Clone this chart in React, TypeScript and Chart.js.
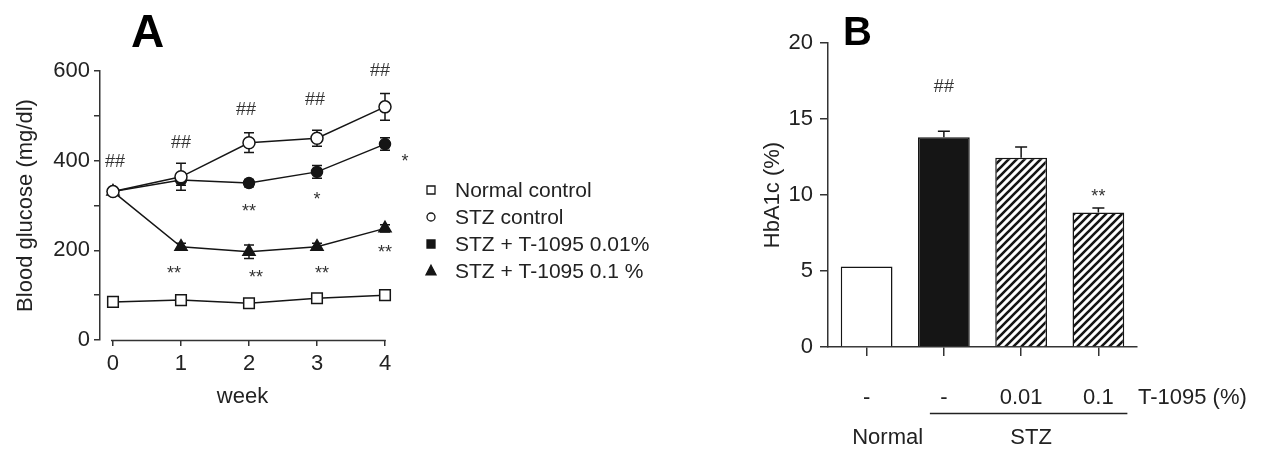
import React, { useEffect, useRef } from 'react';
import { Chart, registerables } from 'chart.js';

Chart.register(...registerables);

const FONT = "'Liberation Sans', Arial, Helvetica, sans-serif";
const INK = '#151515';
const TEXT = '#222222';

// ---------- Panel A data ----------
const weeks = [0, 1, 2, 3, 4];
const seriesLabels = ['Normal control', 'STZ control', 'STZ + T-1095 0.01%', 'STZ + T-1095 0.1 %'];
const normalControl = [85, 89, 82, 93, 100];
const stzControl = [331, 364, 440, 450, 520];
const stzLowDose = [331, 357, 350, 375, 437];
const stzHighDose = [331, 208, 197, 208, 249];
const normalControlErr = [3, 3, 3, 4, 4];
const stzControlErr = [4, 30, 22, 18, 30];
const stzLowDoseErr = [4, 12, 8, 14, 14];
const stzHighDoseErr = [4, 8, 15, 8, 8];
const glucoseTickValues = [0, 100, 200, 300, 400, 500, 600];
const glucoseLabelStep = 200;
// [text, series index, week index]
const glucoseMarks: Array<[string, number, number]> = [
  ['##', 1, 0], ['##', 1, 1], ['##', 1, 2], ['##', 1, 3], ['##', 1, 4],
  ['**', 3, 1], ['**', 3, 2], ['**', 3, 3], ['**', 3, 4],
  ['**', 2, 2], ['*', 2, 3], ['*', 2, 4],
];
// pixel offsets of the marks from their points (style only)
const glucoseMarkOffsets: Array<[number, number]> = [
  [2, -30], [0, -34], [-3, -33], [-2, -38], [-5, -36],
  [-7, 22], [7, 21], [5, 22], [0, 20],
  [0, 24], [0, 23], [20, 13],
];

// ---------- Panel B data ----------
const hbDose = ['-', '-', '0.01', '0.1'];
const hbGroups = ['Normal', 'STZ'];
const hbDoseTitle = 'T-1095 (%)';
const hba1c = [5.3, 13.8, 12.45, 8.85];
const hba1cErr = [0, 0.4, 0.7, 0.3];
const hbMarks = ['', '##', '', '**'];
const hbTickValues = [0, 5, 10, 15, 20];

function drawMarker(ctx: CanvasRenderingContext2D, style: string, filled: boolean, x: number, y: number, r: number) {
  ctx.beginPath();
  if (style === 'rect') {
    ctx.rect(x - r, y - r, 2 * r, 2 * r);
  } else if (style === 'circle') {
    ctx.arc(x, y, r, 0, Math.PI * 2);
  } else {
    ctx.moveTo(x, y - r * 1.15);
    ctx.lineTo(x + r, y + r * 0.75);
    ctx.lineTo(x - r, y + r * 0.75);
    ctx.closePath();
  }
  ctx.fillStyle = filled ? INK : '#ffffff';
  ctx.fill();
  ctx.lineWidth = 1.3;
  ctx.strokeStyle = INK;
  ctx.stroke();
}

function drawMarkText(ctx: CanvasRenderingContext2D, text: string, x: number, y: number) {
  ctx.save();
  ctx.font = `18px ${FONT}`;
  ctx.fillStyle = '#333';
  ctx.textAlign = 'center';
  ctx.textBaseline = 'middle';
  const shift = text.includes('*') ? 5 : 0;
  ctx.fillText(text, x, y + shift);
  ctx.restore();
}

const legendMarkers: Array<[string, boolean]> = [
  ['rect', false], ['circle', false], ['rect', true], ['triangle', true],
];

export default function App() {
  const refA = useRef<HTMLCanvasElement>(null);
  const refB = useRef<HTMLCanvasElement>(null);

  useEffect(() => {
    Chart.defaults.font.family = FONT;
    const values = [normalControl, stzControl, stzLowDose, stzHighDose];
    const errors = [normalControlErr, stzControlErr, stzLowDoseErr, stzHighDoseErr];
    const styles = [
      { pointStyle: 'rect', radius: 7.5, fill: '#ffffff', order: 1 },
      { pointStyle: 'circle', radius: 6, fill: '#ffffff', order: -1 },
      { pointStyle: 'circle', radius: 5.5, fill: INK, order: 0 },
      { pointStyle: 'triangle', radius: 7, fill: INK, order: 0 },
    ];

    const pluginA = {
      id: 'panelA',
      beforeDatasetsDraw(chart: any) {
        const { ctx, scales } = chart;
        ctx.save();
        ctx.strokeStyle = INK;
        ctx.lineWidth = 1.5;
        values.forEach((arr, si) => {
          arr.forEach((v, i) => {
            const e = errors[si][i];
            const x = scales.x.getPixelForValue(weeks[i]);
            const y1 = scales.y.getPixelForValue(v + e);
            const y2 = scales.y.getPixelForValue(v - e);
            ctx.beginPath();
            ctx.moveTo(x, y1); ctx.lineTo(x, y2);
            ctx.moveTo(x - 5, y1); ctx.lineTo(x + 5, y1);
            ctx.moveTo(x - 5, y2); ctx.lineTo(x + 5, y2);
            ctx.stroke();
          });
        });
        ctx.restore();
      },
      afterDraw(chart: any) {
        const { ctx, scales, chartArea } = chart;
        ctx.save();
        // x axis line (offset from the y axis)
        ctx.strokeStyle = '#333';
        ctx.lineWidth = 1.5;
        ctx.beginPath();
        const yb = chartArea.bottom + 0.5;
        ctx.moveTo(scales.x.getPixelForValue(weeks[0]) - 2, yb);
        ctx.lineTo(scales.x.getPixelForValue(weeks[weeks.length - 1]) + 0.75, yb);
        ctx.stroke();
        // significance marks
        glucoseMarks.forEach(([text, si, wi], k) => {
          const [dx, dy] = glucoseMarkOffsets[k];
          const x = scales.x.getPixelForValue(weeks[wi]);
          const y = scales.y.getPixelForValue(values[si][wi]);
          drawMarkText(ctx, text, x + dx, y + dy);
        });
        // legend
        const lx = chartArea.right + 46;
        seriesLabels.forEach((label, i) => {
          const y = 190 + i * 27;
          const [st, filled] = legendMarkers[i];
          drawMarker(ctx, st, filled, lx, y, st === 'triangle' ? 5 : 4);
          ctx.font = `21px ${FONT}`;
          ctx.fillStyle = TEXT;
          ctx.textAlign = 'left';
          ctx.textBaseline = 'middle';
          ctx.fillText(label, lx + 24, y + 1);
        });
        // panel letter
        ctx.font = `bold 46px ${FONT}`;
        ctx.fillStyle = '#000';
        ctx.textAlign = 'left';
        ctx.textBaseline = 'alphabetic';
        ctx.fillText('A', 131, 47);
        ctx.restore();
      },
    };

    const chartA = new Chart(refA.current as HTMLCanvasElement, {
      type: 'line',
      data: {
        datasets: seriesLabels.map((label, si) => ({
          label,
          data: weeks.map((w, i) => ({ x: w, y: values[si][i] })),
          borderColor: INK,
          borderWidth: 1.5,
          pointStyle: styles[si].pointStyle as any,
          pointRadius: styles[si].radius,
          pointBackgroundColor: styles[si].fill,
          pointBorderColor: INK,
          pointBorderWidth: 1.5,
          tension: 0,
          clip: false as any,
          order: styles[si].order,
        })),
      },
      options: {
        responsive: false,
        animation: false,
        layout: { padding: { top: 71, right: 375, left: 0, bottom: 0 } },
        plugins: { legend: { display: false }, tooltip: { enabled: false } },
        scales: {
          x: {
            type: 'linear',
            min: -0.191,
            max: 4,
            afterBuildTicks: (s: any) => { s.ticks = weeks.map((v) => ({ value: v })); },
            afterFit: (s: any) => { s.height = 109; },
            grid: { drawOnChartArea: false, drawTicks: true, tickLength: 6, color: '#333', lineWidth: 1.5 },
            border: { display: false },
            ticks: { font: { size: 22 }, color: TEXT, padding: 5, maxRotation: 0, autoSkip: false },
            title: { display: true, text: 'week', font: { size: 22 }, color: TEXT, padding: { top: 0, bottom: 39 } },
          },
          y: {
            min: 0,
            max: 600,
            afterBuildTicks: (s: any) => { s.ticks = glucoseTickValues.map((v) => ({ value: v })); },
            afterFit: (s: any) => { s.width = 100; },
            grid: { drawOnChartArea: false, drawTicks: true, tickLength: 6, color: '#333', lineWidth: 1.5 },
            border: { display: true, color: '#333', width: 1.5 },
            ticks: {
              font: { size: 22 }, color: TEXT, padding: 4,
              callback: (v: any) => (Number(v) % glucoseLabelStep === 0 ? String(v) : ''),
            },
            title: { display: true, text: 'Blood glucose (mg/dl)', font: { size: 22 }, color: TEXT, padding: { top: 13, bottom: 0 } },
          },
        },
      },
      plugins: [pluginA],
    });

    // hatch pattern for panel B (stripes rising from lower-left to upper-right)
    const tile = document.createElement('canvas');
    tile.width = 8; tile.height = 8;
    const tctx = tile.getContext('2d') as CanvasRenderingContext2D;
    tctx.fillStyle = '#ffffff';
    tctx.fillRect(0, 0, 8, 8);
    tctx.strokeStyle = INK;
    tctx.lineWidth = 2.6;
    tctx.beginPath();
    tctx.moveTo(-2, 10); tctx.lineTo(10, -2);
    tctx.moveTo(-2, 2); tctx.lineTo(2, -2);
    tctx.moveTo(6, 10); tctx.lineTo(10, 6);
    tctx.stroke();
    const ctxB = (refB.current as HTMLCanvasElement).getContext('2d') as CanvasRenderingContext2D;
    const hatch = ctxB.createPattern(tile, 'repeat');
    const fills = ['#ffffff', INK, hatch, hatch];

    const pluginB = {
      id: 'panelB',
      afterDatasetsDraw(chart: any) {
        const { ctx, scales, chartArea } = chart;
        ctx.save();
        ctx.strokeStyle = INK;
        ctx.lineWidth = 1.5;
        hba1c.forEach((v, i) => {
          const x = scales.x.getPixelForValue(i);
          const y0 = scales.y.getPixelForValue(v);
          if (hba1cErr[i] > 0) {
            const y1 = scales.y.getPixelForValue(v + hba1cErr[i]);
            ctx.beginPath();
            ctx.moveTo(x, y0); ctx.lineTo(x, y1);
            ctx.moveTo(x - 6, y1); ctx.lineTo(x + 6, y1);
            ctx.stroke();
          }
          if (hbMarks[i]) {
            const dy = hbMarks[i].includes('#') ? -50 : -20;
            drawMarkText(ctx, hbMarks[i], x, y0 + dy);
          }
        });
        // group annotations below the axis
        const c0 = scales.x.getPixelForValue(0);
        const c1 = scales.x.getPixelForValue(1);
        const c3 = scales.x.getPixelForValue(3);
        ctx.font = `22px ${FONT}`;
        ctx.fillStyle = TEXT;
        ctx.textBaseline = 'middle';
        ctx.textAlign = 'left';
        ctx.fillText(hbDoseTitle, chartArea.right + 1, 398);
        ctx.strokeStyle = '#222';
        ctx.lineWidth = 1.5;
        ctx.beginPath();
        ctx.moveTo(c1 - 14, 413.5);
        ctx.lineTo(c3 + 29, 413.5);
        ctx.stroke();
        ctx.textAlign = 'center';
        ctx.fillText(hbGroups[0], c0 + 21, 438);
        ctx.fillText(hbGroups[1], (c1 + c3) / 2 + 10, 438);
        // panel letter
        ctx.font = `bold 40px ${FONT}`;
        ctx.fillStyle = '#000';
        ctx.textAlign = 'left';
        ctx.textBaseline = 'alphabetic';
        ctx.fillText('B', 83, 45);
        ctx.restore();
      },
    };

    const chartB = new Chart(refB.current as HTMLCanvasElement, {
      type: 'bar',
      data: {
        labels: hbDose,
        datasets: [{
          data: hba1c,
          backgroundColor: fills as any,
          borderColor: INK,
          borderWidth: 1.5,
          borderSkipped: 'bottom',
          barPercentage: 0.67,
          categoryPercentage: 1,
        }],
      },
      options: {
        responsive: false,
        animation: false,
        layout: { padding: { top: 43, right: 130, left: 0, bottom: 0 } },
        plugins: { legend: { display: false }, tooltip: { enabled: false } },
        scales: {
          x: {
            afterFit: (s: any) => { s.height = 102; },
            grid: { offset: false, drawOnChartArea: false, drawTicks: true, tickLength: 9, color: '#333', lineWidth: 1.5 },
            border: { display: true, color: '#333', width: 1.5 },
            ticks: { font: { size: 22 }, color: TEXT, padding: 29, maxRotation: 0, autoSkip: false },
          },
          y: {
            min: 0,
            max: 20,
            afterBuildTicks: (s: any) => { s.ticks = hbTickValues.map((v) => ({ value: v })); },
            afterFit: (s: any) => { s.width = 68; },
            grid: { drawOnChartArea: false, drawTicks: true, tickLength: 8, color: '#333', lineWidth: 1.5 },
            border: { display: true, color: '#333', width: 1.5 },
            ticks: { font: { size: 22 }, color: TEXT, padding: 7 },
            title: { display: true, text: 'HbA1c (%)', font: { size: 22 }, color: TEXT, padding: { top: 0, bottom: 0 } },
          },
        },
      },
      plugins: [pluginB],
    });

    return () => {
      chartA.destroy();
      chartB.destroy();
    };
  }, []);

  return (
    <div style={{ position: 'absolute', left: 0, top: 0, width: 1267, height: 449, background: '#ffffff' }}>
      <canvas ref={refA} width={760} height={449} style={{ position: 'absolute', left: 0, top: 0 }} />
      <canvas ref={refB} width={507} height={449} style={{ position: 'absolute', left: 760, top: 0 }} />
    </div>
  );
}
